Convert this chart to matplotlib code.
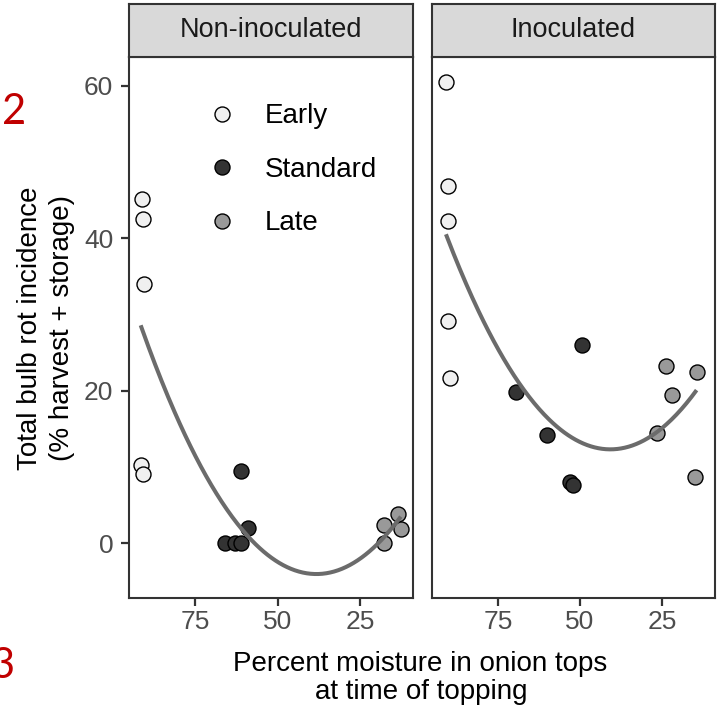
import numpy as np
import matplotlib
matplotlib.use("Agg")
import matplotlib.pyplot as plt
from matplotlib.lines import Line2D

plt.rcParams["font.family"] = ["Liberation Sans", "DejaVu Sans"]

# ---------------------------------------------------------------------
# Data
# ---------------------------------------------------------------------
panels = ["Non-inoculated", "Inoculated"]
timings = ["Early", "Standard", "Late"]
timing_fill = ["#F0F0F0", "#333333", "#999999"]

# Non-inoculated
non_early_x = [91.2, 90.9, 90.5, 91.5, 90.9]
non_early_y = [45.2, 42.5, 34.0, 10.3, 9.1]
non_std_x = [61.0, 59.0, 66.0, 63.0, 61.0]
non_std_y = [9.5, 2.0, 0.0, 0.0, 0.0]
non_late_x = [13.6, 17.6, 12.6, 17.6]
non_late_y = [3.8, 2.4, 1.9, 0.0]

# Inoculated
ino_early_x = [90.8, 90.3, 90.1, 90.3, 89.5]
ino_early_y = [60.5, 46.9, 42.2, 29.2, 21.7]
ino_std_x = [49.5, 69.4, 60.1, 53.0, 52.0]
ino_std_y = [26.0, 19.9, 14.2, 8.1, 7.6]
ino_late_x = [23.8, 14.5, 22.1, 26.7, 15.0]
ino_late_y = [23.2, 22.4, 19.5, 14.4, 8.7]

x_ticks = [75, 50, 25]
y_ticks = [0, 20, 40, 60]

panel_data = [
    [(non_early_x, non_early_y), (non_std_x, non_std_y), (non_late_x, non_late_y)],
    [(ino_early_x, ino_early_y), (ino_std_x, ino_std_y), (ino_late_x, ino_late_y)],
]

# ---------------------------------------------------------------------
# Figure layout (pixel geometry of the reference, 717 x 706)
# ---------------------------------------------------------------------
W, H = 717, 706
fig = plt.figure(figsize=(W / 100, H / 100), dpi=100)

dark = "#333333"
panel_top, panel_bot = 56.7, 597.7
strip_top = 4.0
panel_x = [(129, 413), (432, 715)]

def fx(px):
    return px / W

def fy(py):
    return (H - py) / H

axes = []
for i, (x0, x1) in enumerate(panel_x):
    ax = fig.add_axes([fx(x0), fy(panel_bot), fx(x1 - x0), (panel_bot - panel_top) / H])
    axes.append(ax)

    # strip
    sax = fig.add_axes([fx(x0), fy(panel_top), fx(x1 - x0), (panel_top - strip_top) / H])
    sax.set_facecolor("#D9D9D9")
    sax.set_xticks([])
    sax.set_yticks([])
    for sp in sax.spines.values():
        sp.set_color(dark)
        sp.set_linewidth(1.5)
    sax.text(0.5, 0.5, panels[i], ha="center", va="center", fontsize=19.5,
             color="#1A1A1A", transform=sax.transAxes)

    all_x, all_y = [], []
    for (xs, ys), fill in zip(panel_data[i], timing_fill):
        ax.plot(xs, ys, linestyle="none", marker="o", markersize=10.8,
                markerfacecolor=fill, markeredgecolor="black",
                markeredgewidth=1.0, clip_on=False, zorder=3)
        all_x += xs
        all_y += ys

    # quadratic smooth, as in stat_smooth(method = "lm", y ~ poly(x, 2))
    coef = np.polyfit(all_x, all_y, 2)
    xs_fit = np.linspace(min(all_x), max(all_x), 200)
    ax.plot(xs_fit, np.polyval(coef, xs_fit), color="#6B6B6B", lw=2.9,
            zorder=4, solid_capstyle="butt")

    ax.set_xlim(95.05, 8.9)
    ax.set_ylim(-7.13, 63.8)
    ax.set_xticks(x_ticks)
    ax.set_yticks(y_ticks)
    ax.tick_params(axis="both", colors=dark, labelcolor="#4D4D4D",
                   labelsize=19, length=5.8, width=1.6)
    ax.tick_params(axis="x", pad=3.0)
    ax.tick_params(axis="y", pad=5.5)
    if i == 1:
        ax.tick_params(axis="y", left=False, labelleft=False)
    for sp in ax.spines.values():
        sp.set_color(dark)
        sp.set_linewidth(1.5)

# legend inside the left panel
handles = [
    Line2D([], [], linestyle="none", marker="o", markersize=10.8,
           markerfacecolor=fill, markeredgecolor="black", markeredgewidth=1.0)
    for fill in timing_fill
]
axes[0].legend(handles, timings, loc="upper left", bbox_to_anchor=(0.2775, 0.914),
               frameon=False, fontsize=20, handlelength=1.0, handletextpad=1.06,
               labelspacing=0.99, borderpad=0, borderaxespad=0)

# axis titles
fig.text(fx(37.3), fy(328.3), "Total bulb rot incidence", rotation=90,
         rotation_mode="anchor", ha="center", va="baseline", fontsize=20)
fig.text(fx(69.0), fy(328.3), "(% harvest + storage)", rotation=90,
         rotation_mode="anchor", ha="center", va="baseline", fontsize=20)
fig.text(fx(420), fy(671), "Percent moisture in onion tops", ha="center",
         va="baseline", fontsize=20)
fig.text(fx(421), fy(699), "at time of topping", ha="center",
         va="baseline", fontsize=20)

# panel letters cut at the left edge
fig.text(fx(14.5), fy(124), "2", ha="center", va="baseline", fontsize=30,
         color="#C00000", family=["Lato", "DejaVu Sans"])
fig.text(fx(2.5), fy(678), "3", ha="center", va="baseline", fontsize=30,
         color="#C00000", family=["Lato", "DejaVu Sans"])

fig.savefig("out.png", dpi=100)
